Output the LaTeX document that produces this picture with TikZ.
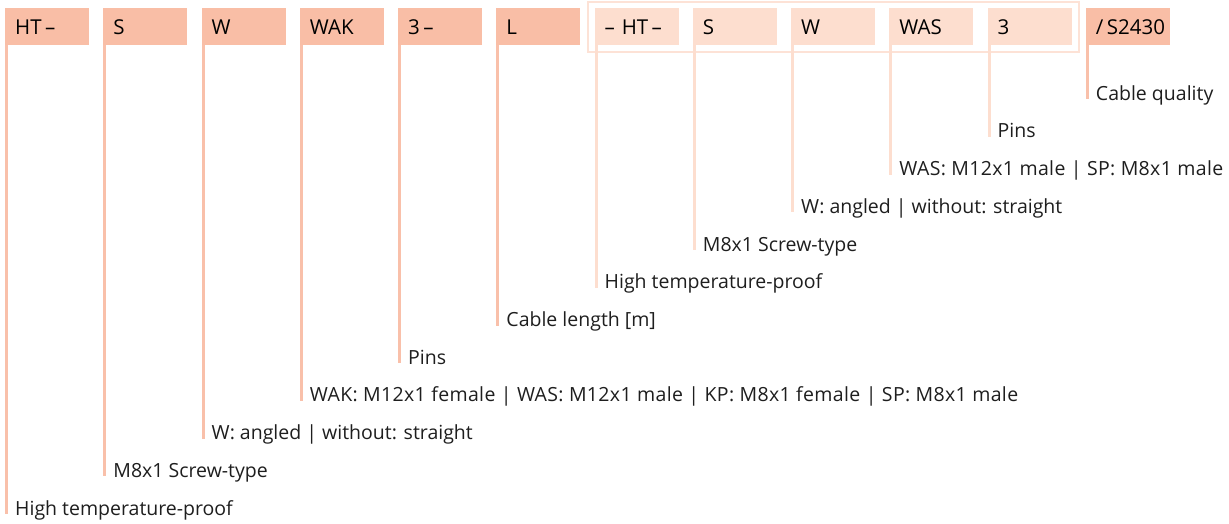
\documentclass[tikz,border=0pt]{standalone}
\usepackage{fontspec}
\setmainfont{Open Sans}
\newfontfamily\labwide[LetterSpace=1.8]{Open Sans}
\definecolor{boxdark}{RGB}{249,190,166}
\definecolor{boxlight}{RGB}{253,222,207}
\definecolor{linedark}{RGB}{249,192,170}
\definecolor{framelight}{RGB}{253,226,214}
\definecolor{txt}{RGB}{30,30,30}
\begin{document}
\begin{tikzpicture}[x=1pt,y=-1pt,
  code/.style={anchor=north west, minimum height=37pt, text width=64pt, inner xsep=10pt, inner ysep=0pt, align=left, font=\fontsize{20.5}{23}\selectfont, text=black},
  codedark/.style={code, fill=boxdark},
  codelight/.style={code, fill=boxlight},
  lab/.style={anchor=base west, inner sep=0pt, font=\fontsize{19.5}{22}\selectfont, text=txt},
  labw/.style={lab, font=\labwide\fontsize{19.5}{22}\selectfont},
  leaddark/.style={draw=linedark, line width=3pt},
  leadlight/.style={draw=boxlight, line width=3pt}]
\useasboundingbox (0,0) rectangle (1229,524);
% frame around second group
\draw[framelight, line width=2.5pt] (588,2) rectangle (1079,52);
% boxes
\node[codedark]  (b1)  at (5,8)      {HT\,–};
\node[codedark]  (b2)  at (103.25,8) {S};
\node[codedark]  (b3)  at (201.5,8)  {W};
\node[codedark]  (b4)  at (299.75,8) {WAK};
\node[codedark]  (b5)  at (398,8)    {3\,–};
\node[codedark]  (b6)  at (496.25,8) {L};
\node[codelight] (b7)  at (594.5,8)  {–\,\,HT\,–};
\node[codelight] (b8)  at (692.75,8) {S};
\node[codelight] (b9)  at (791,8)    {W};
\node[codelight] (b10) at (889.25,8) {WAS};
\node[codelight] (b11) at (987.5,8)  {3};
\node[codedark]  (b12) at (1085.75,8) {/\,S2430};
% line end coordinates
\coordinate (e1)  at (6.5,514);
\coordinate (e2)  at (104.75,476.3);
\coordinate (e3)  at (203,438.6);
\coordinate (e4)  at (301.25,400.9);
\coordinate (e5)  at (399.5,363.2);
\coordinate (e6)  at (497.75,325.5);
\coordinate (e7)  at (596,287.8);
\coordinate (e8)  at (694.25,250.1);
\coordinate (e9)  at (792.5,212.4);
\coordinate (e10) at (890.75,174.7);
\coordinate (e11) at (989,137);
\coordinate (e12) at (1087.25,99.3);
% leaders
\draw[leaddark]  (b1.south west -| e1) -- (e1);
\draw[leaddark]  (b2.south west -| e2) -- (e2);
\draw[leaddark]  (b3.south west -| e3) -- (e3);
\draw[leaddark]  (b4.south west -| e4) -- (e4);
\draw[leaddark]  (b5.south west -| e5) -- (e5);
\draw[leaddark]  (b6.south west -| e6) -- (e6);
\draw[leadlight] (b7.south west -| e7) -- (e7);
\draw[leadlight] (b8.south west -| e8) -- (e8);
\draw[leadlight] (b9.south west -| e9) -- (e9);
\draw[leadlight] (b10.south west -| e10) -- (e10);
\draw[leadlight] (b11.south west -| e11) -- (e11);
\draw[leaddark]  (b12.south west -| e12) -- (e12);
% labels
\node[lab] (l1)  at ([xshift=8.5pt,yshift=-1pt]e1)  {High temperature-proof};
\node[lab] (l2)  at ([xshift=8.5pt,yshift=-1pt]e2)  {M8x1 Screw-type};
\node[lab] (l3)  at ([xshift=8.5pt,yshift=-1pt]e3)  {W: angled | without: straight};
\node[labw] (l4)  at ([xshift=8.5pt,yshift=-1pt]e4)  {WAK: M12x1 female | WAS: M12x1 male | KP: M8x1 female | SP: M8x1 male};
\node[lab] (l5)  at ([xshift=8.5pt,yshift=-1pt]e5)  {Pins};
\node[lab] (l6)  at ([xshift=8.5pt,yshift=-1pt]e6)  {Cable length [m]};
\node[lab] (l7)  at ([xshift=8.5pt,yshift=-1pt]e7)  {High temperature-proof};
\node[lab] (l8)  at ([xshift=8.5pt,yshift=-1pt]e8)  {M8x1 Screw-type};
\node[lab] (l9)  at ([xshift=8.5pt,yshift=-1pt]e9)  {W: angled | without: straight};
\node[labw] (l10) at ([xshift=8.5pt,yshift=-1pt]e10) {WAS: M12x1 male | SP: M8x1 male};
\node[lab] (l11) at ([xshift=8.5pt,yshift=-1pt]e11) {Pins};
\node[lab] (l12) at ([xshift=8.5pt,yshift=-1pt]e12) {Cable quality};
\end{tikzpicture}
\end{document}
